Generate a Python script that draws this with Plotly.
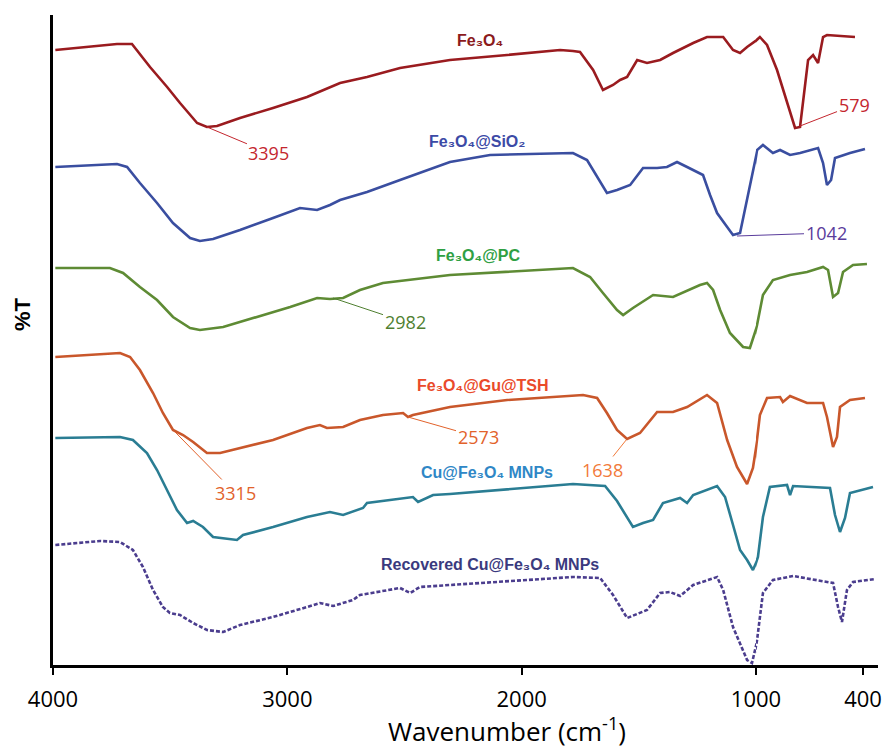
import plotly.graph_objects as go

# ---- data (wavenumber in cm-1, offset %T in arbitrary units) ----
fe3o4_wn = [3990, 3727, 3663, 3586, 3513, 3458, 3385, 3343, 3300, 3202, 3061, 2916, 2775, 2660, 2519, 2306, 2062, 1836, 1781, 1751,
            1695, 1653, 1610, 1580, 1550, 1507, 1465, 1409, 1354, 1268, 1209, 1140, 1098, 1068, 1038, 978, 938, 882, 809, 781,
            753, 725, 708, 680, 652, 624, 602, 445]
fe3o4_t = [615, 621, 621, 598, 578, 562, 542, 538, 539, 547, 557, 568, 582, 588, 597, 605, 610, 615, 614, 613,
           595, 575, 580, 585, 588, 605, 602, 605, 612, 622, 628, 628, 615, 612, 618, 628, 620, 595, 552, 537,
           538, 578, 605, 610, 602, 628, 630, 628]

sio2_wn = [3990, 3727, 3684, 3629, 3556, 3488, 3415, 3373, 3317, 3202, 3061, 2946, 2873, 2818, 2775, 2660, 2519, 2306, 2135, 1781,
           1721, 1678, 1636, 1593, 1537, 1482, 1422, 1380, 1337, 1294, 1226, 1196, 1166, 1123, 1098, 1068, 1038, 1013, 994, 961,
           905, 865, 809, 753, 652, 624, 602, 579, 557, 473, 389]
sio2_t = [498, 501, 498, 482, 462, 442, 427, 424, 426, 435, 447, 457, 455, 460, 465, 473, 485, 503, 510, 512,
          505, 488, 472, 475, 480, 497, 497, 498, 503, 498, 490, 470, 452, 438, 430, 432, 466, 493, 515, 520,
          512, 515, 510, 512, 517, 502, 480, 485, 507, 512, 516]

pc_wn = [3990, 3757, 3701, 3629, 3556, 3488, 3415, 3373, 3274, 3129, 2988, 2873, 2818, 2762, 2690, 2592, 2306, 1781, 1708, 1653,
         1593, 1567, 1525, 1439, 1354, 1239, 1209, 1183, 1153, 1111, 1055, 1026, 994, 961, 905, 809, 714, 624, 596, 568,
         540, 512, 456, 378]
pc_t = [397, 397, 392, 378, 365, 348, 337, 335, 338, 348, 358, 367, 366, 367, 375, 382, 390, 397, 388, 372,
        355, 350, 357, 370, 368, 380, 382, 375, 355, 332, 318, 317, 340, 370, 385, 390, 393, 398, 395, 368,
        372, 393, 400, 401]

gutsh_wn = [3990, 3714, 3671, 3629, 3573, 3531, 3488, 3445, 3402, 3343, 3287, 3202, 3061, 2916, 2861, 2831, 2762, 2690, 2592, 2506,
            2485, 2464, 2306, 2062, 1738, 1678, 1636, 1593, 1550, 1495, 1422, 1354, 1294, 1209, 1166, 1123, 1081, 1038, 1013, 978,
            938, 865, 849, 809, 714, 624, 602, 568, 546, 529, 473, 389]
gutsh_t = [308, 312, 308, 295, 272, 252, 235, 230, 223, 212, 212, 217, 225, 237, 240, 237, 238, 245, 250, 252,
           248, 250, 258, 265, 270, 267, 252, 235, 226, 232, 253, 253, 258, 270, 262, 225, 198, 181, 197, 250,
           267, 268, 263, 269, 262, 262, 248, 218, 228, 258, 265, 267]

cu_wn = [3990, 3714, 3659, 3599, 3556, 3513, 3471, 3428, 3402, 3360, 3317, 3215, 3189, 3061, 2916, 2818, 2762, 2677, 2660, 2464,
         2442, 2378, 2306, 1781, 1644, 1593, 1550, 1525, 1482, 1439, 1397, 1324, 1294, 1268, 1166, 1132, 1098, 1068, 1038, 1013,
         989, 961, 922, 826, 809, 792, 585, 557, 529, 501, 473, 344]
cu_t = [227, 228, 225, 212, 195, 175, 155, 142, 144, 138, 128, 125, 130, 138, 148, 153, 150, 157, 162, 168,
        163, 170, 171, 181, 179, 164, 147, 138, 142, 145, 162, 167, 162, 170, 179, 168, 140, 115, 105, 95,
        108, 148, 178, 180, 170, 179, 177, 150, 133, 147, 172, 178]

rec_wn = [3990, 3799, 3714, 3659, 3616, 3573, 3531, 3501, 3458, 3402, 3343, 3274, 3202, 3061, 2916, 2861, 2805, 2720, 2690, 2519,
          2476, 2434, 2306, 1781, 1665, 1610, 1550, 1465, 1409, 1367, 1324, 1268, 1166, 1140, 1098, 1038, 1017, 994, 961, 905,
          792, 568, 540, 518, 490, 456, 333]
rec_t = [120, 124, 123, 115, 98, 75, 58, 52, 50, 42, 35, 33, 40, 48, 58, 62, 59, 65, 70, 77,
         72, 78, 80, 88, 87, 70, 47, 55, 72, 73, 69, 80, 88, 75, 38, 5, 2, 25, 72, 85,
         89, 82, 58, 43, 75, 83, 86]

series_names = ["Fe₃O₄", "Fe₃O₄@SiO₂", "Fe₃O₄@PC", "Fe₃O₄@Gu@TSH", "Cu@Fe₃O₄ MNPs", "Recovered Cu@Fe₃O₄ MNPs"]
series_wn = [fe3o4_wn, sio2_wn, pc_wn, gutsh_wn, cu_wn, rec_wn]
series_t = [fe3o4_t, sio2_t, pc_t, gutsh_t, cu_t, rec_t]
line_colors = ["#9A1B1F", "#3A4EA0", "#5E8B34", "#C9572B", "#2A7D93", "#4B3D8E"]
label_colors = ["#8B1A1C", "#3C4AA6", "#2FA043", "#EA4A2A", "#2F87C6", "#3A3A7E"]
line_dashes = ["solid", "solid", "solid", "solid", "solid", "4px,2px"]
# label anchor (wavenumber, %T)
label_wn = [2178, 2190, 2186, 2165, 2148, 2135]
label_t = [625, 524, 410, 280, 193, 101]

x_ticks_main = [4000, 3000, 2000, 1000]
x_ticks_low = [400]

# peak annotations: text, wavenumber, %T, axis
peak_text = ["3395", "579", "1042", "2982", "2573", "1638", "3315"]
peak_wn = [3343, 753, 1081, 2805, 2485, 1554, 3479]
peak_t = [538, 539, 429, 367, 248, 225, 233]
peak_axis = ["x", "x2", "x", "x", "x", "x", "x"]
peak_offset = [(62, 26), (54, -21), (89, -3), (72, 24), (70, 20), (-24, 30), (60, 61)]
peak_colors = ["#C4262E", "#C4262E", "#5A3C9C", "#4F7F30", "#E2622B", "#F27A3A", "#E2622B"]

fig = go.Figure()
for name, wn, t, col, dash in zip(series_names, series_wn, series_t, line_colors, line_dashes):
    for xa in ("x", "x2"):
        fig.add_trace(go.Scatter(x=wn, y=t, mode="lines", name=name, xaxis=xa, yaxis="y",
                                 line=dict(color=col, width=2.6, dash=dash),
                                 showlegend=False, hoverinfo="skip"))

annotations = []
for name, w, t, col in zip(series_names, label_wn, label_t, label_colors):
    annotations.append(dict(x=w, y=t, xref="x", yref="y", text="<b>%s</b>" % name, showarrow=False,
                            font=dict(family="Liberation Sans, Arial, sans-serif", size=16, color=col)))
for txt, w, t, xa, (ax, ay), col in zip(peak_text, peak_wn, peak_t, peak_axis, peak_offset, peak_colors):
    annotations.append(dict(x=w, y=t, xref=xa, yref="y", text=txt, showarrow=True, arrowhead=0,
                            arrowwidth=1, arrowcolor=col, ax=ax, ay=ay, standoff=0,
                            font=dict(family="Open Sans, sans-serif", size=18, color=col)))
annotations.append(dict(x=0.55, y=-0.1, xref="paper", yref="paper", text="Wavenumber (cm<sup>-1</sup>)",
                        showarrow=False, font=dict(family="Open Sans, sans-serif", size=26, color="black"),
                        xanchor="center", yanchor="middle"))
annotations.append(dict(x=-0.0376, y=0.54, xref="paper", yref="paper", text="<b>%T</b>", textangle=-90,
                        showarrow=False, xanchor="center", yanchor="middle",
                        font=dict(family="Liberation Sans, Arial, sans-serif", size=22, color="black")))

axis_common = dict(ticks="outside", ticklen=7, tickwidth=2, tickcolor="black", showline=True, linecolor="black",
                   linewidth=3, showgrid=False, zeroline=False, anchor="y", automargin=False,
                   ticklabelstandoff=6,
                   tickfont=dict(family="Open Sans, sans-serif", size=22, color="black"))

fig.update_layout(
    width=885, height=748,
    margin=dict(l=53, r=7, t=15, b=83, autoexpand=False),
    paper_bgcolor="white", plot_bgcolor="white", showlegend=False,
    xaxis=dict(domain=[0, 0.8521], range=[4000, 1000], tickvals=x_ticks_main, **axis_common),
    xaxis2=dict(domain=[0.8521, 1], range=[1000, 316], tickvals=x_ticks_low, **axis_common),
    yaxis=dict(range=[0, 650], showline=True, linecolor="black", linewidth=3, showticklabels=False,
               ticks="", showgrid=False, zeroline=False, automargin=False),
    annotations=annotations,
)

# remove the default 8px page margin so the figure sits at the window's top-left corner
fig.write_html("out.html",
               config={"displayModeBar": False},
               post_script="document.body.style.margin='0px';document.body.style.overflow='hidden';")
